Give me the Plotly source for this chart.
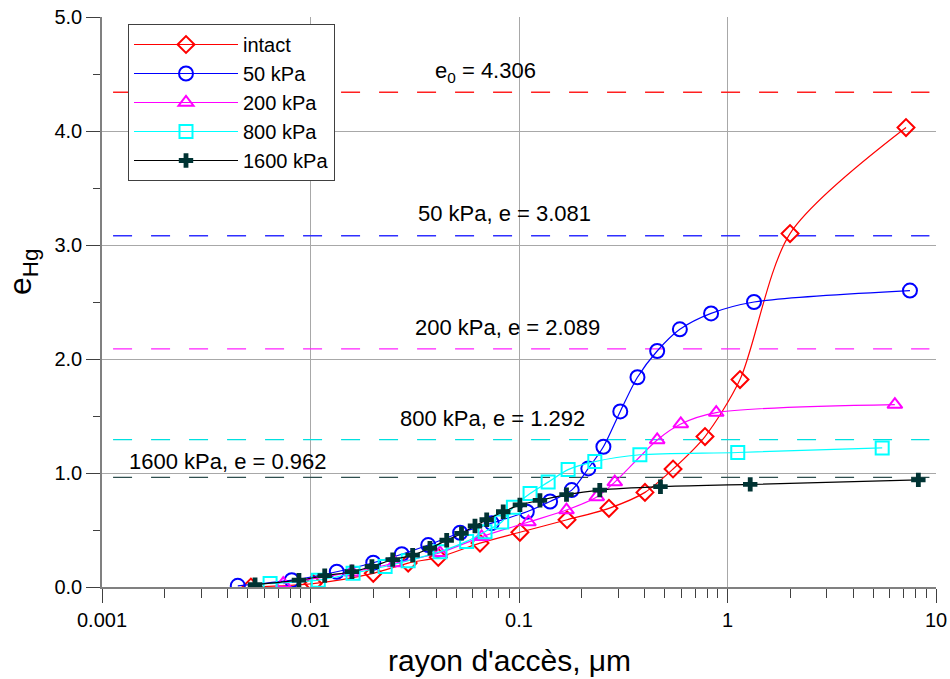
import plotly.graph_objects as go

# ---- data ----
intact_x = [0.00518, 0.0103, 0.0200, 0.0294, 0.041, 0.065, 0.101, 0.170, 0.270, 0.402, 0.548, 0.780, 1.148, 1.995, 7.18]
intact_y = [0.00, 0.03, 0.12, 0.21, 0.26, 0.385, 0.48, 0.59, 0.69, 0.83, 1.035, 1.32, 1.82, 3.10, 4.03]

kpa50_x = [0.00448, 0.00813, 0.01337, 0.0200, 0.0274, 0.0367, 0.0522, 0.074, 0.109, 0.141, 0.179, 0.215, 0.254, 0.306, 0.370, 0.460, 0.591, 0.834, 1.34, 7.50]
kpa50_y = [0.01, 0.06, 0.134, 0.213, 0.287, 0.368, 0.476, 0.56, 0.66, 0.75, 0.85, 1.04, 1.23, 1.54, 1.84, 2.07, 2.26, 2.40, 2.50, 2.60]

kpa200_x = [0.0074, 0.0158, 0.0254, 0.0418, 0.0662, 0.111, 0.169, 0.236, 0.288, 0.46, 0.597, 0.883, 6.35]
kpa200_y = [0.03, 0.13, 0.21, 0.30, 0.44, 0.57, 0.675, 0.79, 0.92, 1.29, 1.43, 1.53, 1.60]

kpa800_x = [0.0064, 0.0109, 0.016, 0.0228, 0.0294, 0.0418, 0.0561, 0.0687, 0.0826, 0.094, 0.113, 0.138, 0.172, 0.231, 0.38, 1.12, 5.52]
kpa800_y = [0.03, 0.06, 0.12, 0.18, 0.23, 0.31, 0.40, 0.485, 0.57, 0.70, 0.82, 0.92, 1.03, 1.10, 1.16, 1.18, 1.22]

kpa1600_x = [0.00542, 0.0088, 0.0117, 0.0158, 0.0197, 0.0248, 0.0309, 0.0374, 0.045, 0.053, 0.0615, 0.070, 0.084, 0.101, 0.126, 0.169, 0.244, 0.477, 1.285, 8.23]
kpa1600_y = [0.02, 0.06, 0.10, 0.134, 0.18, 0.24, 0.28, 0.34, 0.41, 0.47, 0.535, 0.59, 0.66, 0.72, 0.76, 0.81, 0.85, 0.88, 0.90, 0.94]

# reference void ratios (dashed lines) and their labels
ref_levels = [4.34, 3.081, 2.089, 1.292, 0.962]
ref_labels = ["e<sub>0</sub> = 4.306", "50 kPa, e = 3.081", "200 kPa, e = 2.089",
              "800 kPa, e = 1.292", "1600 kPa, e = 0.962"]
ref_x_span = [0.00113, 9.3]

x_tickvals = [0.001, 0.01, 0.1, 1, 10]
x_ticktext = ["0.001", "0.01", "0.1", "1", "10"]
y_tickvals = [0, 1, 2, 3, 4, 5]
y_ticktext = ["0.0", "1.0", "2.0", "3.0", "4.0", "5.0"]

FONT = "Liberation Sans, Arial, sans-serif"

fig = go.Figure()

# dashed reference lines
dash_colors = ["#ff2020", "#3030ff", "#ff20ff", "#00e0e0", "#2f4f4f"]
for lvl, c in zip(ref_levels, dash_colors):
    fig.add_trace(go.Scatter(x=ref_x_span, y=[lvl, lvl], mode="lines",
                             line=dict(color=c, width=1.3, dash="19px,19px"),
                             showlegend=False, hoverinfo="skip"))

series = [
    ("intact", intact_x, intact_y, "#ff0000", "#ff0000", "diamond-open", 13),
    ("50 kPa", kpa50_x, kpa50_y, "#0000ff", "#0000ff", "circle-open", 14),
    ("200 kPa", kpa200_x, kpa200_y, "#ff00ff", "#ff00ff", "triangle-up-open", 13),
    ("800 kPa", kpa800_x, kpa800_y, "#00ffff", "#00ffff", "square-open", 13),
    ("1600 kPa", kpa1600_x, kpa1600_y, "#000000", "#003333", "cross", 12),
]
for name, xs, ys, lc, mc, sym, sz in series:
    fig.add_trace(go.Scatter(
        x=xs, y=ys, name=name, mode="lines+markers",
        line=dict(color=lc, width=1.2, shape="spline", smoothing=0.8),
        marker=dict(symbol=sym, size=sz, color=mc,
                    line=dict(color=mc, width=2 if "open" in sym else 0)),
    ))

# annotations for reference lines
ann_pos = [(485, 72), (504, 214), (507, 327), (492, 418), (228, 461)]
L, T, W, H = 102, 17, 834, 570
for (px, py), txt in zip(ann_pos, ref_labels):
    fig.add_annotation(x=(px - L) / W, y=1 - (py - T) / H, xref="paper", yref="paper",
                       text=txt, showarrow=False, font=dict(size=22, color="black", family=FONT),
                       xanchor="center", yanchor="middle")

# axis titles
fig.add_annotation(x=(509 - L) / W, y=1 - (660 - T) / H, xref="paper", yref="paper",
                   text="rayon d'accès, μm", showarrow=False,
                   font=dict(size=30, color="black", family=FONT), xanchor="center", yanchor="middle")
fig.add_annotation(x=0, xshift=-80, y=1 - (272 - T) / H, xref="paper", yref="paper",
                   text="e<sub>Hg</sub>", showarrow=False, textangle=-90,
                   font=dict(size=32, color="black", family=FONT), xanchor="center", yanchor="middle")

fig.update_layout(
    width=950, height=679,
    margin=dict(l=L, r=950 - L - W, t=T, b=679 - T - H),
    paper_bgcolor="white", plot_bgcolor="white",
    font=dict(family=FONT, color="black", size=20),
    showlegend=True,
    legend=dict(x=(128 - L) / W, y=1 - (24 - T) / H, xanchor="left", yanchor="top",
                bgcolor="white", bordercolor="#404040", borderwidth=1,
                font=dict(size=20, family=FONT), itemwidth=104, tracegroupgap=0),
)
fig.update_xaxes(type="log", range=[-3, 1], tickvals=x_tickvals, ticktext=x_ticktext,
                 showgrid=True, gridcolor="#a8a8a8", gridwidth=1,
                 showline=True, linecolor="#808080", linewidth=1.5,
                 ticks="outside", ticklen=14, tickcolor="#404040", automargin=False,
                 minor=dict(ticks="outside", ticklen=9, tickcolor="#404040", showgrid=False,
                            tickvals=[m * d for d in [0.001, 0.01, 0.1, 1] for m in range(2, 10)]),
                 tickfont=dict(size=20), zeroline=False)
fig.update_yaxes(range=[0, 5], tickvals=y_tickvals, ticktext=y_ticktext,
                 showgrid=True, gridcolor="#a8a8a8", gridwidth=1,
                 showline=True, linecolor="#808080", linewidth=1.5,
                 ticks="outside", ticklen=14, tickcolor="#404040", automargin=False,
                 minor=dict(ticks="outside", ticklen=7, tickcolor="#404040", showgrid=False,
                            tickvals=[0.5, 1.5, 2.5, 3.5, 4.5]),
                 tickfont=dict(size=20), zeroline=False)

fig.write_html("out.html", config={"displayModeBar": False},
               post_script="document.body.style.margin='0';document.body.style.overflow='hidden';")
